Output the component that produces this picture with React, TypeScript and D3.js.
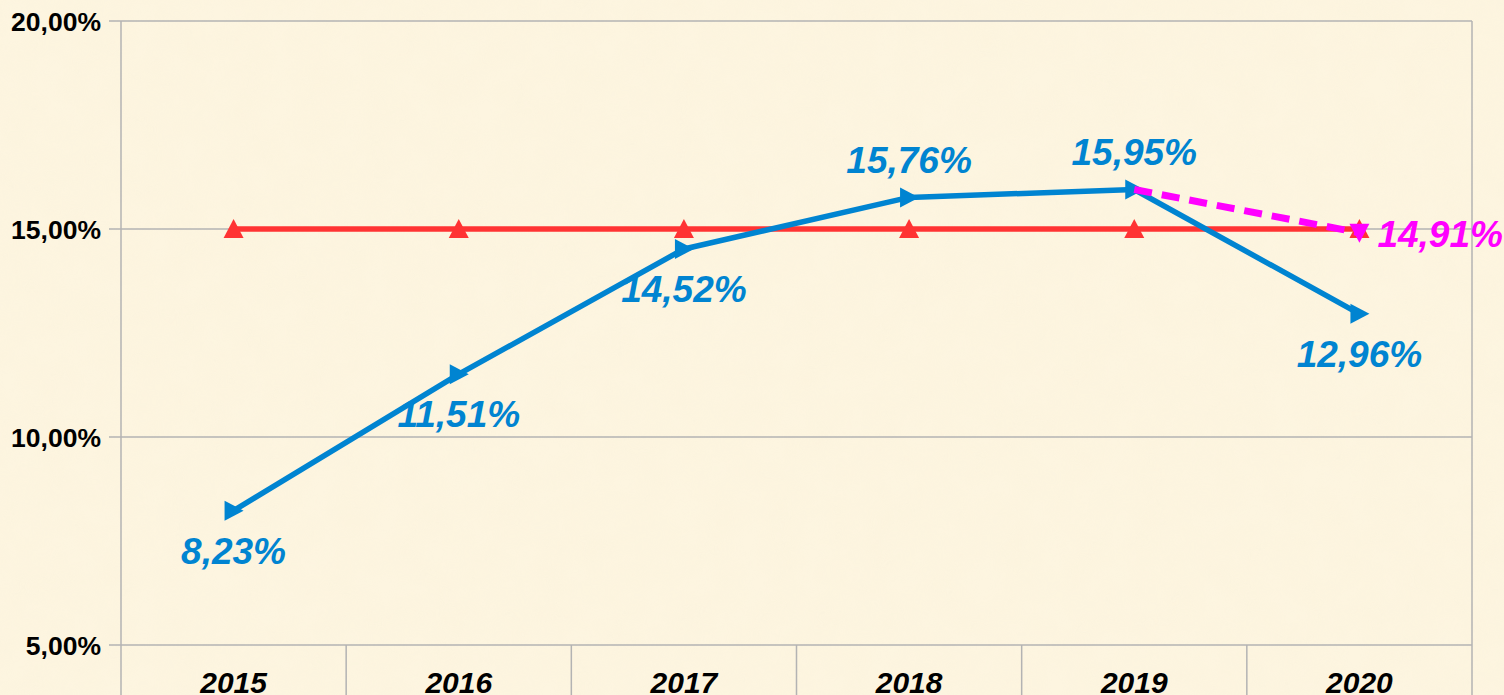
import React, { useEffect, useRef } from "react";
import * as d3 from "d3";

const years = ["2015", "2016", "2017", "2018", "2019", "2020"];
const actual = [8.23, 11.51, 14.52, 15.76, 15.95, 12.96];
const target = [15, 15, 15, 15, 15, 15];
const forecast = [null, null, null, null, 15.95, 14.91];
const labelSide = ["below", "below", "below", "above", "above", "below"];
const yTicks = [5, 10, 15, 20];

const W = 1504, H = 695;
const fmt = (v: number) => v.toFixed(2).replace(".", ",") + "%";

export default function App() {
    const ref = useRef<SVGSVGElement>(null);

    useEffect(() => {
        const svg = d3.select(ref.current);
        svg.selectAll("*").remove();

        const margin = { top: 21, right: 32, bottom: 50, left: 121 };
        const w = W - margin.left - margin.right,
            h = H - margin.top - margin.bottom;

        // parchment background
        const defs = svg.append("defs");
        const f = defs.append("filter").attr("id", "paper").attr("x", 0).attr("y", 0).attr("width", "100%").attr("height", "100%");
        f.append("feTurbulence").attr("type", "fractalNoise").attr("baseFrequency", 0.03).attr("numOctaves", 3).attr("seed", 4).attr("result", "n");
        f.append("feColorMatrix").attr("in", "n").attr("type", "matrix")
            .attr("values", "0 0 0 0 0.96  0 0 0 0 0.88  0 0 0 0 0.7  0 0 0 0.5 -0.1");

        svg.append("rect").attr("width", W).attr("height", H).attr("fill", "#fdf5e0");
        svg.append("rect").attr("width", W).attr("height", H).attr("filter", "url(#paper)").attr("opacity", 0.7);

        const g = svg.append("g").attr("transform", `translate(${margin.left},${margin.top})`);

        const x = d3.scaleBand().domain(years).range([0, w]);
        const y = d3.scaleLinear().domain([5, 20]).range([h, 0]);
        const cx = (i: number) => x(years[i])! + x.bandwidth() / 2;

        const font = "'Liberation Sans', Arial, sans-serif";

        // horizontal gridlines + tick labels
        yTicks.forEach(t => {
            g.append("line").attr("x1", -12).attr("x2", w).attr("y1", y(t)).attr("y2", y(t))
                .attr("stroke", "#b3b3b3").attr("stroke-width", 1.5);
            g.append("text").attr("x", -20).attr("y", y(t)).attr("dy", "0.36em")
                .attr("text-anchor", "end").attr("font-family", font).attr("font-weight", "bold")
                .attr("font-size", 26.5).attr("fill", "#000").text(fmt(t));
        });

        // vertical axis + right border + category separators
        g.append("line").attr("x1", 0).attr("x2", 0).attr("y1", 0).attr("y2", H)
            .attr("stroke", "#b3b3b3").attr("stroke-width", 1.5);
        g.append("line").attr("x1", w).attr("x2", w).attr("y1", 0).attr("y2", H)
            .attr("stroke", "#b3b3b3").attr("stroke-width", 1.5);
        years.forEach((yr, i) => {
            if (i > 0) {
                g.append("line").attr("x1", x(yr)!).attr("x2", x(yr)!).attr("y1", h).attr("y2", H)
                    .attr("stroke", "#b3b3b3").attr("stroke-width", 1.5);
            }
            g.append("text").attr("x", cx(i)).attr("y", h + 48)
                .attr("text-anchor", "middle").attr("font-family", font).attr("font-weight", "bold")
                .attr("font-style", "italic").attr("font-size", 30).attr("fill", "#000").text(yr);
        });

        const line = d3.line<number | null>()
            .defined(d => d != null)
            .x((d, i) => cx(i))
            .y(d => y(d as number));

        const tri = (dir: string) => {
            // triangle about 20px wide
            if (dir === "up") return "M0,-10L10,9L-10,9Z";
            if (dir === "down") return "M0,10L10,-9L-10,-9Z";
            return "M10,0L-9,-10L-9,10Z";
        };

        // target line
        g.append("path").attr("d", line(target)).attr("fill", "none")
            .attr("stroke", "#ff3333").attr("stroke-width", 5.5);
        target.forEach((v, i) => {
            g.append("path").attr("d", tri("up")).attr("transform", `translate(${cx(i)},${y(v)})`).attr("fill", "#ff3333");
        });

        // actual line
        g.append("path").attr("d", line(actual)).attr("fill", "none")
            .attr("stroke", "#0084d1").attr("stroke-width", 5.5).attr("stroke-linejoin", "round");
        actual.forEach((v, i) => {
            g.append("path").attr("d", tri("right")).attr("transform", `translate(${cx(i)},${y(v)})`).attr("fill", "#0084d1");
            const above = labelSide[i] === "above";
            g.append("text").attr("x", cx(i)).attr("y", y(v) + (above ? -24 : 53))
                .attr("text-anchor", "middle").attr("font-family", font).attr("font-weight", "bold")
                .attr("font-style", "italic").attr("font-size", 37).attr("fill", "#0084d1").text(fmt(v));
        });

        // forecast dashed
        g.append("path").attr("d", line(forecast)).attr("fill", "none")
            .attr("stroke", "#ff00ff").attr("stroke-width", 7).attr("stroke-dasharray", "18,10");
        const li = forecast.length - 1;
        const fv = forecast[li] as number;
        g.append("path").attr("d", tri("down")).attr("transform", `translate(${cx(li)},${y(fv)})`).attr("fill", "#ff00ff");
        g.append("text").attr("x", cx(li) + 18).attr("y", y(fv) + 14)
            .attr("text-anchor", "start").attr("font-family", font).attr("font-weight", "bold")
            .attr("font-style", "italic").attr("font-size", 37).attr("fill", "#ff00ff").text(fmt(fv));
    }, []);

    return (
        <svg ref={ref} width={W} height={H} style={{ position: "absolute", left: 0, top: 0, display: "block" }} />
    );
}
